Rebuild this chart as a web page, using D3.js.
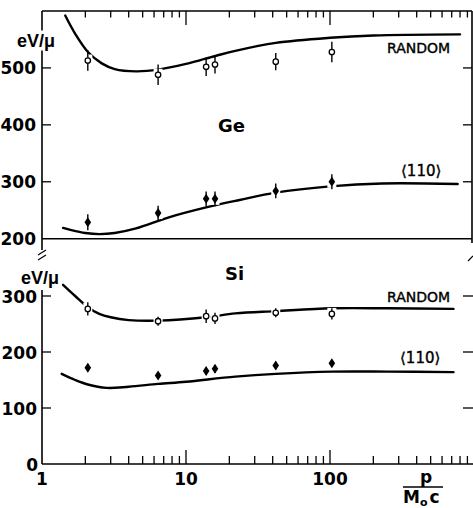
<!DOCTYPE html>
<html><head><meta charset="utf-8">
<script src="https://cdn.jsdelivr.net/npm/d3@7"></script>
<style>body{margin:0;background:#fff}svg{display:block}</style>
</head><body>
<svg id="c" width="473" height="508"></svg>
<script>
// ---- data ----
const pValues = [2.08, 6.4, 13.8, 15.9, 42, 103];
const geRandom = [513, 488, 502, 506, 511, 528];
const geRandomErr = [18, 18, 16, 16, 15, 18];
const ge110 = [229, 245, 270, 270, 284, 300];
const ge110Err = [14, 13, 13, 13, 13, 13];
const siRandom = [277, 255, 264, 260, 270, 268];
const siRandomErr = [12, 8, 12, 10, 8, 10];
const si110 = [172, 158, 166, 170, 176, 180];
const si110Err = [7, 6, 7, 7, 6, 6];

const geRandomCurveX = [1.45, 1.7, 2.1, 2.6, 3.2, 4.5, 6.4, 10, 16, 22, 42, 100, 200, 800];
const geRandomCurveY = [592, 560, 527, 508, 498, 494, 497, 507, 521, 530, 544, 553, 557, 559];
const ge110CurveX = [1.4, 1.6, 2, 2.5, 3.2, 4.5, 7.7, 13.8, 23.6, 42, 100, 230, 770];
const ge110CurveY = [219, 215, 210, 208, 210, 218, 238, 255, 268, 281, 292, 297, 296];
const siRandomCurveX = [1.4, 1.7, 2.08, 2.5, 3, 4, 6.4, 13.8, 22, 42, 103, 250, 720];
const siRandomCurveY = [320, 300, 280, 268, 262, 257, 256, 262, 269, 273, 278, 278, 277];
const si110CurveX = [1.37, 1.7, 2.08, 2.8, 4, 6.4, 10, 22, 42, 103, 250, 720];
const si110CurveY = [161, 150, 142, 136, 138, 143, 147, 156, 161, 165, 165, 164];

const geTicks = [200, 300, 400, 500];
const siTicks = [0, 100, 200, 300];
const xLabelTicks = [1, 10, 100];

// ---- layout ----
const L = 42, R = 472, T = 11, B = 464;
const svg = d3.select("#c");
const x = d3.scaleLog().domain([1, Math.pow(10, (R - L) / 144)]).range([L, R]);
const yGe = d3.scaleLinear().domain([200, 600]).range([238.7, T]);
const ySi = d3.scaleLinear().domain([0, 300]).range([B, 296]);

const numFont = "DejaVu Sans";
const axisW = 1.6;

// frame top line
svg.append("line").attr("x1", L).attr("x2", R).attr("y1", T).attr("y2", T).attr("stroke", "#000").attr("stroke-width", axisW);
// right line (upper panel)
svg.append("line").attr("x1", R).attr("x2", R).attr("y1", T).attr("y2", 243).attr("stroke", "#000").attr("stroke-width", axisW);
// left axis upper
svg.append("line").attr("x1", L).attr("x2", L).attr("y1", T).attr("y2", 250).attr("stroke", "#000").attr("stroke-width", axisW);
// separator line at 200 (Ge)
svg.append("line").attr("x1", L).attr("x2", R).attr("y1", yGe(200)).attr("y2", yGe(200)).attr("stroke", "#000").attr("stroke-width", axisW);
// left axis lower
svg.append("line").attr("x1", L).attr("x2", L).attr("y1", 290).attr("y2", B).attr("stroke", "#000").attr("stroke-width", axisW);
// bottom axis
svg.append("line").attr("x1", L).attr("x2", 473).attr("y1", B).attr("y2", B).attr("stroke", "#000").attr("stroke-width", axisW);

// break marks
[[0, 0], [0, 5]].forEach(o => {
  svg.append("line").attr("x1", L - 4).attr("y1", 255 + o[1]).attr("x2", L + 4).attr("y2", 250 + o[1]).attr("stroke", "#000").attr("stroke-width", 1.2);
});
svg.append("line").attr("x1", 468).attr("y1", 261).attr("x2", 473).attr("y2", 256).attr("stroke", "#000").attr("stroke-width", 1.2);

// x ticks (top and bottom)
const minorTicks = x.ticks().filter(v => v > 1 && v <= x.domain()[1]);
minorTicks.forEach(v => {
  const major = Math.abs(Math.log10(v) - Math.round(Math.log10(v))) < 1e-9;
  const len = major ? 14 : 6.5;
  svg.append("line").attr("x1", x(v)).attr("x2", x(v)).attr("y1", T).attr("y2", T + len).attr("stroke", "#000").attr("stroke-width", 1.3);
  svg.append("line").attr("x1", x(v)).attr("x2", x(v)).attr("y1", B).attr("y2", B - (major ? 14 : 8)).attr("stroke", "#000").attr("stroke-width", 1.3);
});

// y ticks
geTicks.filter(v => v > 200).forEach(v => {
  svg.append("line").attr("x1", L).attr("x2", L + 9).attr("y1", yGe(v)).attr("y2", yGe(v)).attr("stroke", "#000").attr("stroke-width", 1.3);
  svg.append("line").attr("x1", R - 9).attr("x2", R).attr("y1", yGe(v)).attr("y2", yGe(v)).attr("stroke", "#000").attr("stroke-width", 1.3);
});
siTicks.filter(v => v > 0).forEach(v => {
  svg.append("line").attr("x1", L).attr("x2", L + 9).attr("y1", ySi(v)).attr("y2", ySi(v)).attr("stroke", "#000").attr("stroke-width", 1.3);
  svg.append("line").attr("x1", 463).attr("x2", 473).attr("y1", ySi(v)).attr("y2", ySi(v)).attr("stroke", "#000").attr("stroke-width", 1.3);
});

// y tick labels
geTicks.forEach(v => {
  svg.append("text").attr("x", 36).attr("y", yGe(v) + 6.5).attr("text-anchor", "end")
    .attr("font-family", numFont).attr("font-weight", "bold").attr("font-size", 17).text(v);
});
siTicks.forEach(v => {
  svg.append("text").attr("x", v === 0 ? 38 : 37).attr("y", ySi(v) + 6.5).attr("text-anchor", "end")
    .attr("font-family", numFont).attr("font-weight", "bold").attr("font-size", 17).text(v);
});
// x tick labels
xLabelTicks.forEach(v => {
  svg.append("text").attr("x", x(v)).attr("y", 485).attr("text-anchor", "middle")
    .attr("font-family", numFont).attr("font-weight", "bold").attr("font-size", 17).text(v);
});

// unit labels with white backing
function unitLabel(x0, yb) {
  const t = svg.append("text").attr("x", x0).attr("y", yb)
    .attr("font-family", "Liberation Sans").attr("font-weight", "bold").attr("font-size", 18).text("eV/μ");
  const bb = t.node().getBBox();
  svg.insert("rect", "text").attr("x", bb.x - 1).attr("y", bb.y).attr("width", bb.width + 2).attr("height", bb.height).attr("fill", "#fff");
}
unitLabel(17, 46.5);
unitLabel(21, 283.5);

// curves
const line = d3.line().curve(d3.curveCatmullRom.alpha(0.5));
function drawCurve(xs, ys, yScale) {
  svg.append("path").attr("d", line(xs.map((v, i) => [x(v), yScale(ys[i])])))
    .attr("fill", "none").attr("stroke", "#000").attr("stroke-width", 2.4).attr("stroke-linecap", "round");
}
drawCurve(geRandomCurveX, geRandomCurveY, yGe);
drawCurve(ge110CurveX, ge110CurveY, yGe);
drawCurve(siRandomCurveX, siRandomCurveY, ySi);
drawCurve(si110CurveX, si110CurveY, ySi);

// markers
function drawPoints(vals, errs, yScale, filled) {
  const g = svg.append("g");
  vals.forEach((v, i) => {
    const cx = x(pValues[i]), cy = yScale(v);
    g.append("rect").attr("x", cx - 4.5).attr("y", cy - 6).attr("width", 9).attr("height", 12).attr("fill", "#fff");
    g.append("line").attr("x1", cx).attr("x2", cx).attr("y1", yScale(v + errs[i])).attr("y2", yScale(v - errs[i]))
      .attr("stroke", "#000").attr("stroke-width", 1.4);
    if (filled) {
      g.append("path").attr("d", `M${cx},${cy - 5}L${cx + 3.3},${cy}L${cx},${cy + 5}L${cx - 3.3},${cy}Z`).attr("fill", "#000");
    } else {
      g.append("circle").attr("cx", cx).attr("cy", cy).attr("r", 2.7).attr("fill", "#fff").attr("stroke", "#000").attr("stroke-width", 1.3);
    }
  });
}
drawPoints(geRandom, geRandomErr, yGe, false);
drawPoints(ge110, ge110Err, yGe, true);
drawPoints(siRandom, siRandomErr, ySi, false);
drawPoints(si110, si110Err, ySi, true);

// panel labels
svg.append("text").attr("x", 218).attr("y", 131.5).attr("font-family", numFont).attr("font-weight", "bold").attr("font-size", 18).text("Ge");
svg.append("text").attr("x", 225).attr("y", 280).attr("font-family", numFont).attr("font-weight", "bold").attr("font-size", 18).text("Si");

function curveLabel(x0, yb, s, fs) {
  svg.append("text").attr("x", x0).attr("y", yb).attr("font-family", numFont).attr("font-size", fs)
    .attr("stroke", "#000").attr("stroke-width", 0.4).text(s);
}
curveLabel(387, 52.7, "RANDOM", 14);
curveLabel(401, 176, "⟨110⟩", 15);
curveLabel(387, 301.7, "RANDOM", 14);
curveLabel(400, 363, "⟨110⟩", 15);

// x axis title p / M0c
svg.append("text").attr("x", 426).attr("y", 483).attr("text-anchor", "middle").attr("font-family", numFont).attr("font-weight", "bold").attr("font-size", 17).text("p");
svg.append("line").attr("x1", 403).attr("x2", 443).attr("y1", 487).attr("y2", 487).attr("stroke", "#000").attr("stroke-width", 1.6);
const mt = svg.append("text").attr("x", 403).attr("y", 503).attr("font-family", numFont).attr("font-weight", "bold").attr("font-size", 17);
mt.append("tspan").text("M");
mt.append("tspan").attr("font-size", 11).attr("dy", 3).text("o");
mt.append("tspan").attr("dy", -3).attr("dx", 2).text("c");
</script>
</body></html>
